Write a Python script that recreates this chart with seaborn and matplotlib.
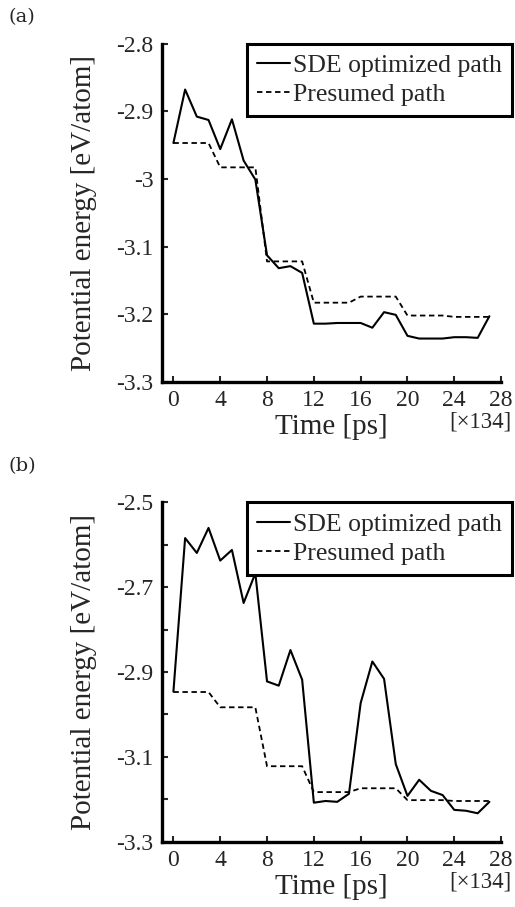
# plot.py - potential energy along SDE optimized path vs presumed path

import matplotlib
matplotlib.use("Agg")
import pandas as pd
import matplotlib.pyplot as plt
import seaborn as sns

sns.set_style("ticks")
plt.rcParams["font.family"] = ["Liberation Serif", "DejaVu Serif"]

# time index (units of 134 ps)
time_idx = [0, 1, 2, 3, 4, 5, 6, 7, 8, 9, 10, 11, 12, 13,
            14, 15, 16, 17, 18, 19, 20, 21, 22, 23, 24, 25, 26, 27]

sde_a = [-2.947, -2.868, -2.908, -2.913, -2.956, -2.912, -2.973, -3.001,
         -3.113, -3.132, -3.129, -3.139, -3.214, -3.214, -3.213, -3.213,
         -3.213, -3.220, -3.197, -3.201, -3.232, -3.236, -3.236, -3.236,
         -3.234, -3.234, -3.235, -3.203]

sde_b = [-2.946, -2.584, -2.619, -2.560, -2.637, -2.612, -2.737, -2.667,
         -2.922, -2.932, -2.848, -2.918, -3.208, -3.204, -3.206, -3.187,
         -2.973, -2.875, -2.916, -3.117, -3.192, -3.154, -3.180, -3.190,
         -3.225, -3.227, -3.233, -3.206]

presumed = [-2.947, -2.947, -2.947, -2.947, -2.983, -2.983, -2.983, -2.983,
            -3.122, -3.122, -3.122, -3.122, -3.183, -3.183, -3.183, -3.183,
            -3.174, -3.174, -3.174, -3.174, -3.202, -3.202, -3.202, -3.202,
            -3.204, -3.204, -3.204, -3.204]

x_ticks = [0, 4, 8, 12, 16, 20, 24, 28]
y_ticks_a = [-2.8, -2.9, -3.0, -3.1, -3.2, -3.3]
y_labels_a = ["-2.8", "-2.9", "-3", "-3.1", "-3.2", "-3.3"]
y_ticks_b = [-2.5, -2.6, -2.7, -2.8, -2.9, -3.0, -3.1, -3.2, -3.3]
y_labels_b = ["-2.5", "", "-2.7", "", "-2.9", "", "-3.1", "", "-3.3"]
ylim_a = (-3.3, -2.8)
ylim_b = (-3.3, -2.5)


def draw_panel(ax, sde, yticks, ylabels, ylim):
    df = pd.DataFrame({"t": time_idx, "sde": sde, "presumed": presumed})
    sns.lineplot(data=df, x="t", y="sde", ax=ax, color="black",
                 linewidth=1.5, label="SDE optimized path")
    sns.lineplot(data=df, x="t", y="presumed", ax=ax, color="black",
                 linewidth=1.3, linestyle=(0, (3, 2)), label="Presumed path")

    ax.set_xlim(-1, 28)
    ax.set_ylim(*ylim)
    ax.set_xticks(x_ticks)
    ax.set_yticks(yticks)
    ax.set_yticklabels(ylabels)
    ax.tick_params(direction="in", length=4, width=1.5, labelsize=17, pad=6)

    sns.despine(ax=ax)
    for side in ["left", "bottom"]:
        ax.spines[side].set_linewidth(2.4)
        ax.spines[side].set_color("black")

    ax.set_xlabel("Time [ps]", fontsize=21)
    ax.xaxis.set_label_coords(0.5, -0.095)
    ax.set_ylabel("Potential energy [eV/atom]", fontsize=21)
    ax.yaxis.set_label_coords(-0.19, 0.5)
    ax.text(1.03, -0.088, "[\u00d7134]", transform=ax.transAxes,
            ha="right", va="top", fontsize=16.5)

    leg = ax.legend(loc="upper right", bbox_to_anchor=(1.032, 1.0),
                    borderaxespad=0, fontsize=18.5, frameon=True,
                    fancybox=False, framealpha=1, edgecolor="black",
                    handlelength=1.3, handletextpad=0.1,
                    labelspacing=0.25, borderpad=0.4)
    leg.get_frame().set_linewidth(2.2)


fig = plt.figure(figsize=(5.15, 9.07), dpi=100)
ax_a = fig.add_axes([0.314, 0.579, 0.659, 0.373])
ax_b = fig.add_axes([0.314, 0.072, 0.659, 0.374])

draw_panel(ax_a, sde_a, y_ticks_a, y_labels_a, ylim_a)
draw_panel(ax_b, sde_b, y_ticks_b, y_labels_b, ylim_b)

fig.text(0.016, 0.991, "(a)", fontsize=14, family="DejaVu Serif", va="top")
fig.text(0.016, 0.496, "(b)", fontsize=14, family="DejaVu Serif", va="top")

fig.savefig("out.png", dpi=100)
